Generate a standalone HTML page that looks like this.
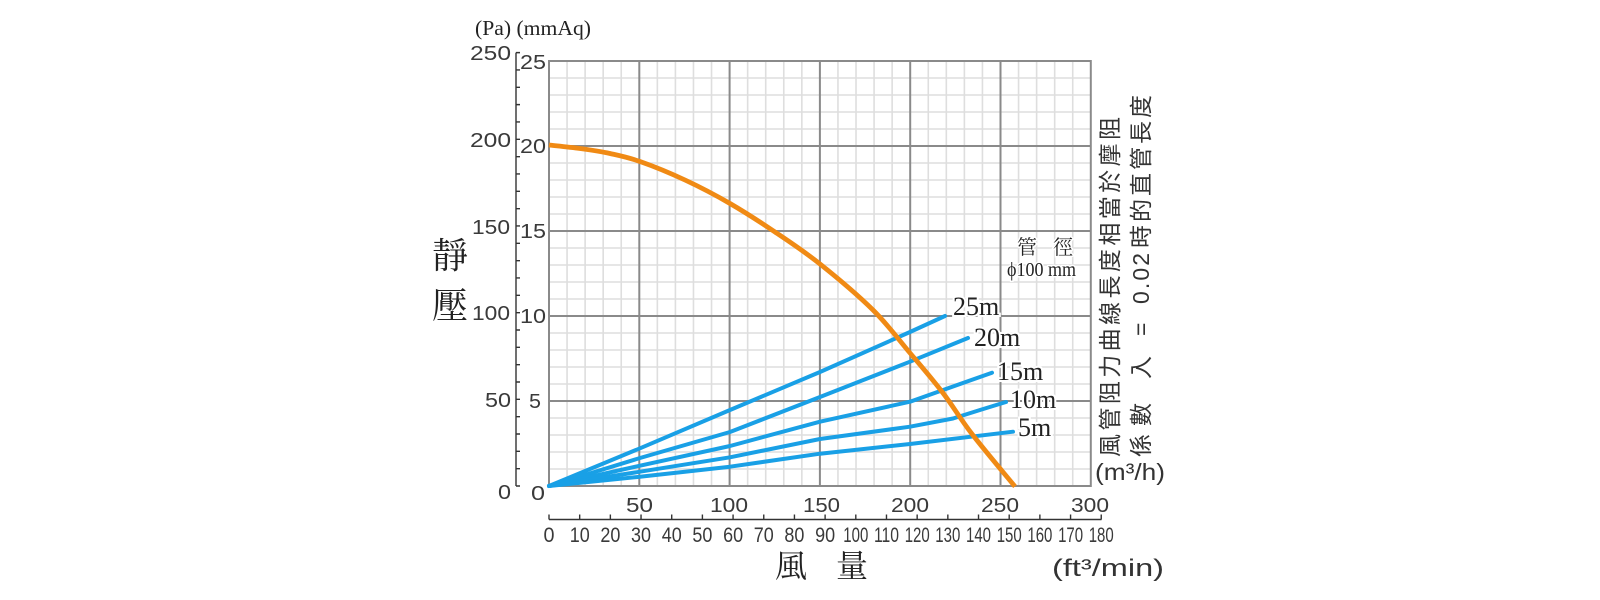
<!DOCTYPE html>
<html><head><meta charset="utf-8"><style>
html,body{margin:0;padding:0;background:#fff;}
svg{display:block;}
.n{font-family:"Liberation Sans",sans-serif;font-size:20px;fill:#3a3a3a;}
.f{font-family:"Liberation Sans",sans-serif;font-size:21px;fill:#3a3a3a;}
.s{font-family:"Liberation Serif",serif;fill:#222;}
.cj{font-family:"Liberation Serif","Noto Serif CJK SC",serif;fill:#222;}
.cs{font-family:"Liberation Sans","Noto Sans CJK TC",sans-serif;fill:#333;}
</style></head><body>
<svg width="1600" height="600" viewBox="0 0 1600 600" xmlns="http://www.w3.org/2000/svg">
<rect width="1600" height="600" fill="#fff"/>
<!-- minor grid -->
<path stroke="#dedede" stroke-width="1.6" fill="none" d="
M567.06 61V486M585.12 61V486M603.18 61V486M621.24 61V486
M657.36 61V486M675.42 61V486M693.48 61V486M711.54 61V486
M747.66 61V486M765.72 61V486M783.78 61V486M801.84 61V486
M837.96 61V486M856.02 61V486M874.08 61V486M892.14 61V486
M928.26 61V486M946.32 61V486M964.38 61V486M982.44 61V486
M1018.56 61V486M1036.62 61V486M1054.68 61V486M1072.74 61V486
M549 78H1091M549 95H1091M549 112H1091M549 129H1091
M549 163H1091M549 180H1091M549 197H1091M549 214H1091
M549 248H1091M549 265H1091M549 282H1091M549 299H1091
M549 333H1091M549 350H1091M549 367H1091M549 384H1091
M549 418H1091M549 435H1091M549 452H1091M549 469H1091"/>
<!-- major grid -->
<path stroke="#8a8a8a" stroke-width="2" fill="none" d="
M639.3 61V486M729.6 61V486M819.9 61V486M910.2 61V486M1000.5 61V486
M549 146H1091M549 231H1091M549 316H1091M549 401H1091"/>
<rect x="549" y="61" width="541.8" height="425" fill="none" stroke="#8a8a8a" stroke-width="2"/>

<!-- Pa axis -->
<path stroke="#333" stroke-width="1.4" fill="none" d="M516 52.6V486
M516 486h4M516 468.67h4M516 451.33h4M516 434h4M516 416.66h4M516 399.33h4M516 381.99h4M516 364.66h4M516 347.32h4M516 329.99h4
M516 312.65h4M516 295.32h4M516 277.98h4M516 260.65h4M516 243.31h4M516 225.98h4M516 208.64h4M516 191.31h4M516 173.97h4M516 156.64h4
M516 139.3h4M516 121.97h4M516 104.63h4M516 87.3h4M516 69.96h4M516 52.63h4"/>

<!-- ft axis -->
<path stroke="#333" stroke-width="1.4" fill="none" d="M549 519.5H1101.5
M549 519.5v-5M579.68 519.5v-5M610.36 519.5v-5M641.04 519.5v-5M671.72 519.5v-5M702.4 519.5v-5M733.08 519.5v-5M763.76 519.5v-5M794.44 519.5v-5M825.12 519.5v-5
M855.8 519.5v-5M886.48 519.5v-5M917.16 519.5v-5M947.84 519.5v-5M978.52 519.5v-5M1009.2 519.5v-5M1039.88 519.5v-5M1070.56 519.5v-5M1101.24 519.5v-5"/>

<!-- blue lines -->
<g fill="none" stroke="#19a0e6" stroke-width="4" stroke-linecap="round" stroke-linejoin="round">
<polyline points="549,486 640,448.3 730,410 820,372 910,332 945,316"/>
<polyline points="549,486 640,458 730,432 820,397 910,361.7 968,338"/>
<polyline points="549,486 640,465.7 730,446 820,421.7 910,401.7 992,372.7"/>
<polyline points="549,486 640,471.7 730,457.3 820,439 910,426.7 953,418.5 980,410 1006,402"/>
<polyline points="549,486 640,476.7 730,466.7 820,453.7 910,444 1013,431.7"/>
</g>
<!-- orange curve -->
<path fill="none" stroke="#f08a14" stroke-width="4.8" stroke-linejoin="round"
d="M549 145 C554.2 145.6 569.8 147.1 580 148.5
C590.2 149.9 600 151.3 610 153.5
C620 155.7 627.5 157.1 640 161.5
C652.5 165.9 670 173 685 180
C700 187 715 194.8 730 203.5
C745 212.2 760 221.9 775 232
C790 242.1 803.7 251 820 264
C836.3 277 858 295.2 873 310
C888 324.8 898.3 339.2 910 353
C921.7 366.8 932.7 379.5 943 393
C953.3 406.5 960 418.4 972 434
C984 449.6 1007.8 477.75 1015 486.5"/>

<!-- curve labels -->
<g class="s" font-size="26" stroke="#fff" stroke-width="4" paint-order="stroke">
<text x="953" y="315">25m</text>
<text x="974" y="346">20m</text>
<text x="997" y="380">15m</text>
<text x="1010" y="408">10m</text>
<text x="1018" y="436">5m</text>
</g>
<g class="cj" font-size="20" stroke="#fff" stroke-width="3" paint-order="stroke">
<text x="1017" y="254">管</text>
<text x="1053" y="254">徑</text>
</g>
<text class="s" x="1007" y="276" font-size="20" textLength="69" lengthAdjust="spacingAndGlyphs" stroke="#fff" stroke-width="3" paint-order="stroke">ϕ100 mm</text>

<!-- top title -->
<text class="s" x="475" y="35" font-size="21" textLength="116" lengthAdjust="spacingAndGlyphs">(Pa) (mmAq)</text>

<!-- Pa labels -->
<g class="n">
<text x="470" y="60" textLength="41" lengthAdjust="spacingAndGlyphs">250</text>
<text x="470" y="147" textLength="41" lengthAdjust="spacingAndGlyphs">200</text>
<text x="472" y="234" textLength="38" lengthAdjust="spacingAndGlyphs">150</text>
<text x="472" y="320" textLength="38" lengthAdjust="spacingAndGlyphs">100</text>
<text x="485" y="407" textLength="26" lengthAdjust="spacingAndGlyphs">50</text>
<text x="498" y="499" textLength="13" lengthAdjust="spacingAndGlyphs">0</text>
<!-- mmAq labels -->
<text x="520" y="69" textLength="26" lengthAdjust="spacingAndGlyphs">25</text>
<text x="520" y="153" textLength="26" lengthAdjust="spacingAndGlyphs">20</text>
<text x="520" y="238" textLength="26" lengthAdjust="spacingAndGlyphs">15</text>
<text x="520" y="323" textLength="26" lengthAdjust="spacingAndGlyphs">10</text>
<text x="529" y="408" textLength="12" lengthAdjust="spacingAndGlyphs">5</text>
<text x="531" y="500" textLength="14" lengthAdjust="spacingAndGlyphs">0</text>
<!-- m3/h labels -->
<text x="626" y="512" textLength="27" lengthAdjust="spacingAndGlyphs">50</text>
<text x="710" y="512" textLength="38" lengthAdjust="spacingAndGlyphs">100</text>
<text x="803" y="512" textLength="37" lengthAdjust="spacingAndGlyphs">150</text>
<text x="891" y="512" textLength="38" lengthAdjust="spacingAndGlyphs">200</text>
<text x="981" y="512" textLength="38" lengthAdjust="spacingAndGlyphs">250</text>
<text x="1071" y="512" textLength="38" lengthAdjust="spacingAndGlyphs">300</text>
</g>
<!-- ft3/min labels -->
<g class="f">
<text x="543.5" y="542" textLength="11" lengthAdjust="spacingAndGlyphs">0</text>
<text x="569.7" y="542" textLength="20" lengthAdjust="spacingAndGlyphs">10</text>
<text x="600.4" y="542" textLength="20" lengthAdjust="spacingAndGlyphs">20</text>
<text x="631" y="542" textLength="20" lengthAdjust="spacingAndGlyphs">30</text>
<text x="661.7" y="542" textLength="20" lengthAdjust="spacingAndGlyphs">40</text>
<text x="692.4" y="542" textLength="20" lengthAdjust="spacingAndGlyphs">50</text>
<text x="723.1" y="542" textLength="20" lengthAdjust="spacingAndGlyphs">60</text>
<text x="753.8" y="542" textLength="20" lengthAdjust="spacingAndGlyphs">70</text>
<text x="784.4" y="542" textLength="20" lengthAdjust="spacingAndGlyphs">80</text>
<text x="815.1" y="542" textLength="20" lengthAdjust="spacingAndGlyphs">90</text>
<text x="843.3" y="542" textLength="25" lengthAdjust="spacingAndGlyphs">100</text>
<text x="874" y="542" textLength="25" lengthAdjust="spacingAndGlyphs">110</text>
<text x="904.7" y="542" textLength="25" lengthAdjust="spacingAndGlyphs">120</text>
<text x="935.3" y="542" textLength="25" lengthAdjust="spacingAndGlyphs">130</text>
<text x="966" y="542" textLength="25" lengthAdjust="spacingAndGlyphs">140</text>
<text x="996.7" y="542" textLength="25" lengthAdjust="spacingAndGlyphs">150</text>
<text x="1027.4" y="542" textLength="25" lengthAdjust="spacingAndGlyphs">160</text>
<text x="1058.1" y="542" textLength="25" lengthAdjust="spacingAndGlyphs">170</text>
<text x="1088.7" y="542" textLength="25" lengthAdjust="spacingAndGlyphs">180</text>
</g>

<!-- axis titles -->
<g class="cj" font-size="36">
<text x="432" y="268">靜</text>
<text x="432" y="318">壓</text>
</g>
<g class="cj" font-size="32">
<text x="775" y="577">風</text>
<text x="836" y="577">量</text>
</g>
<text class="cs" x="1052" y="576" font-size="24" textLength="112" lengthAdjust="spacingAndGlyphs">(ft³/min)</text>
<text class="cs" x="1095" y="480" font-size="23" textLength="70" lengthAdjust="spacingAndGlyphs">(m³/h)</text>

<!-- right vertical text -->
<g transform="translate(1118,0) rotate(-90)" class="cs" font-size="23">
<text x="-457" y="0" textLength="340" lengthAdjust="spacing">風管阻力曲線長度相當於摩阻</text>
</g>
<g transform="translate(1149,0) rotate(-90)" class="cs" font-size="23">
<text x="-457" y="0" textLength="54" lengthAdjust="spacing">係數</text>
<text x="-379" y="0">入</text>
<text x="-336" y="0">=</text>
<text x="-304" y="0" textLength="51" lengthAdjust="spacing">0.02</text>
<text x="-248" y="0" textLength="153" lengthAdjust="spacing">時的直管長度</text>
</g>
</svg>
</body></html>
